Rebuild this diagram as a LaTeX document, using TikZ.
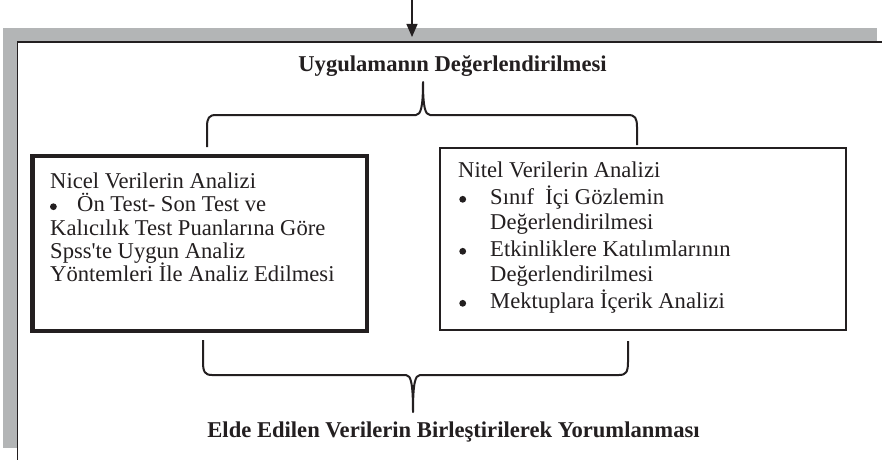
\documentclass[tikz,border=0pt]{standalone}
\usepackage{fontspec}
\setmainfont{Liberation Serif}
\usetikzlibrary{arrows.meta}
\definecolor{ink}{HTML}{231F20}
\definecolor{band}{HTML}{B3B5B6}
\begin{document}
\begin{tikzpicture}[x=1pt,y=-1pt,
  every node/.style={inner sep=0pt, text=ink},
  bodytext/.style={anchor=north west, align=left,
    font=\fontsize{22.6}{23.4}\selectfont},
  bodytextwide/.style={anchor=north west, align=left,
    font=\fontsize{22.6}{25}\selectfont},
  headtext/.style={anchor=base, font=\fontsize{22.6}{26}\selectfont\bfseries},
  thickbox/.style={draw=ink, line width=4.3pt, anchor=center},
  thinbox/.style={draw=ink, line width=2pt, anchor=center},
  dot/.style={circle, fill=ink, minimum size=6.8pt},
  bracepath/.style={draw=ink, line width=2pt, line join=round},
  framepath/.style={draw=ink, line width=1.7pt}]
\lineskiplimit=-50pt\relax
\useasboundingbox (0,0) rectangle (882,460);
\clip (0,0) rectangle (882,460);
% frame with grey shadow
\fill[band] (3,28) rectangle (877,448);
\fill[white] (17.5,42) rectangle (890,470);
\coordinate (ftr) at (882,42);
\coordinate (ftl) at (17.5,42);
\coordinate (fbl) at (17.5,460);
\draw[framepath] (ftr) -- (ftl) -- (fbl);
% incoming arrow
\coordinate (in) at (412,0);
\coordinate (tip) at (412,37);
\draw[ink, line width=1.3pt, -{Triangle[length=13pt,width=11pt]}] (in) -- (tip);
% headings
\node[headtext] (title) at (452.5,71) {Uygulamanın Değerlendirilmesi};
\node[headtext] (result) at (453.5,437) {Elde Edilen Verilerin Birleştirilerek Yorumlanması};
% boxes
\node[thickbox, minimum width=334.2pt, minimum height=175.3pt] (nicel) at (199.6,243.65) {};
\node[thinbox, minimum width=406.7pt, minimum height=182.2pt] (nitel) at (642.85,238.9) {};
% box texts
\node[bodytext] (niceltext) at (50,172) {\rule{0pt}{16pt}Nicel Verilerin Analizi\\
\hspace*{27pt}Ön Test- Son Test ve\\
Kalıcılık Test Puanlarına Göre\\
Spss\textquotesingle te Uygun Analiz\\
Yöntemleri İle Analiz Edilmesi};
\node[bodytextwide] (niteltext) at (458,161) {\rule{0pt}{16pt}Nitel Verilerin Analizi\\[2pt]
\hspace*{32pt}Sınıf\ \ İçi Gözlemin\\
\hspace*{32pt}Değerlendirilmesi\\[2pt]
\hspace*{32pt}Etkinliklere Katılımlarının\\
\hspace*{32pt}Değerlendirilmesi\\[2pt]
\hspace*{32pt}Mektuplara İçerik Analizi};
% bullets
\node[dot] (b1) at (53.4,206.7) {};
\node[dot] (b2) at (462.7,199.3) {};
\node[dot] (b3) at (462.7,251.3) {};
\node[dot] (b4) at (462.7,303.3) {};
% top brace
\coordinate (tbL) at (207,147);
\coordinate (tbR) at (637,145);
\coordinate (tbT) at (423,82);
\draw[bracepath] (tbL) -- (207,127) .. controls (207,118) and (209,115) .. (216,115)
  -- (416,115) .. controls (421,115) and (423,106) .. (tbT)
  .. controls (423,106) and (425,115) .. (430,115)
  -- (628,115) .. controls (635,115) and (637,118) .. (637,127) -- (tbR);
% bottom brace
\coordinate (bbL) at (203,340);
\coordinate (bbR) at (628,341);
\coordinate (bbT) at (413,412);
\draw[bracepath] (bbL) -- (203,362) .. controls (203,372) and (205,375) .. (212,375)
  -- (406,375) .. controls (411,375) and (413,384) .. (bbT)
  .. controls (413,384) and (415,375) .. (420,375)
  -- (619,375) .. controls (626,375) and (628,372) .. (628,362) -- (bbR);
\end{tikzpicture}
\end{document}
